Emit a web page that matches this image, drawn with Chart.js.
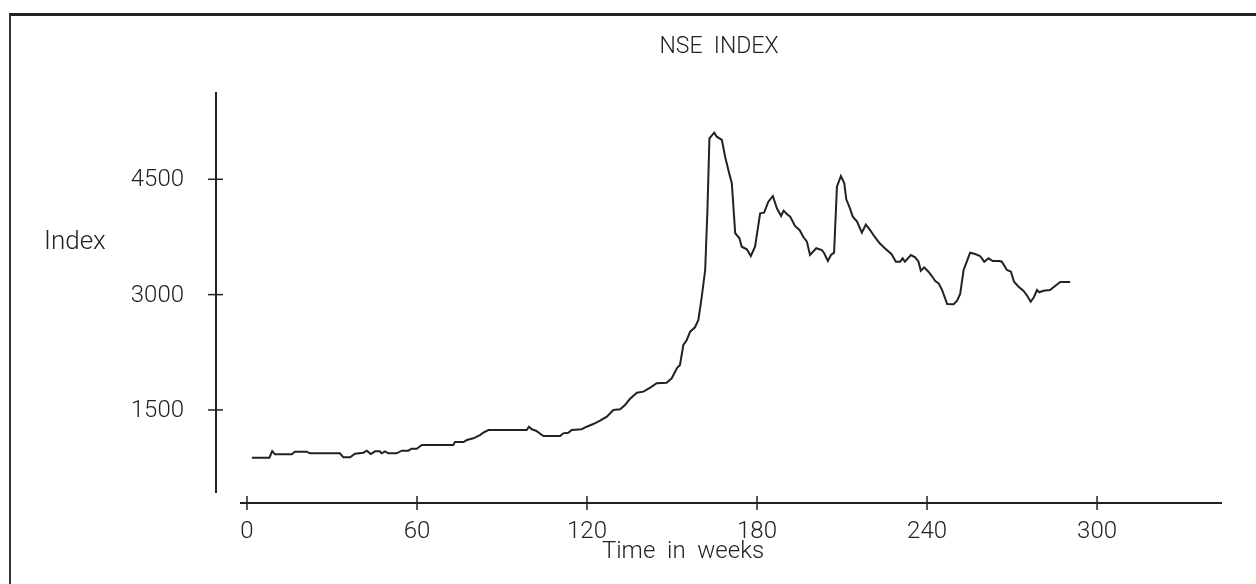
<!DOCTYPE html>
<html>
<head>
<meta charset="utf-8">
<title>NSE INDEX</title>
<script src="https://cdn.jsdelivr.net/npm/chart.js@4.4.1/dist/chart.umd.min.js"></script>
<style>
  html, body { margin: 0; padding: 0; background: #fff; }
  #wrap { position: relative; width: 1256px; height: 584px; overflow: hidden; }
  #frame { position: absolute; left: 9px; top: 13px; width: 1300px; height: 700px;
           border-top: 3px solid #222; border-left: 2px solid #333; }
  canvas { position: absolute; left: 0; top: 0; }
</style>
</head>
<body>
<div id="wrap">
  <div id="frame"></div>
  <canvas id="nseChart" width="1256" height="584"></canvas>
</div>
<script>
// Datos (semana, valor del índice)
const weeks = [
  1.7, 7.9, 8.9, 9.9, 15.8, 16.9, 21.1, 22.2, 32.8, 34.0, 36.4, 38.1, 41.1, 42.3, 43.7,
  45.2, 46.9, 47.5, 48.7, 49.9, 52.8, 54.6, 56.9, 58.1, 59.9, 61.7, 72.8, 73.4, 76.4,
  77.6, 79.9, 82.2, 83.4, 85.2, 98.7, 99.5, 100.5, 102.0, 104.6, 110.5, 111.6, 113.4,
  114.6, 118.1, 119.9, 122.2, 124.6, 127.0, 129.3, 131.7, 133.4, 135.2, 137.6, 139.9,
  142.3, 144.6, 148.1, 149.9, 151.7, 152.8, 154.0, 155.2, 156.4, 158.1, 159.3, 160.5,
  161.7, 162.5, 163.2, 164.9, 165.8, 167.6, 168.7, 170.3, 171.1, 172.3, 173.8, 174.6,
  176.4, 177.8, 179.3, 181.1, 182.5, 184.0, 185.6, 187.0, 188.5, 189.4, 190.5, 191.7,
  193.4, 195.0, 196.4, 197.6, 198.7, 200.9, 202.9, 203.7, 205.0, 206.1, 207.2, 208.2,
  209.6, 210.8, 211.5, 212.6, 213.8, 215.3, 217.0, 218.4, 219.8, 221.5, 223.3, 225.1,
  227.5, 229.0, 230.5, 231.4, 232.2, 234.3, 235.8, 237.0, 237.8, 239.0, 240.5, 241.7,
  242.9, 244.1, 245.3, 247.1, 249.4, 250.6, 251.7, 252.9, 253.8, 255.2, 257.0, 258.7,
  260.2, 261.7, 263.2, 265.6, 266.4, 268.2, 269.6, 270.7, 272.3, 274.0, 275.4, 276.6,
  277.8, 278.8, 279.6, 281.1, 283.4, 285.2, 287.0, 290.5
];
const indexValues = [
  879, 879, 966, 923, 923, 957, 957, 936, 936, 884, 884, 931, 944, 970, 927,
  962, 962, 936, 962, 936, 936, 970, 970, 996, 996, 1044, 1044, 1083, 1083,
  1109, 1131, 1174, 1204, 1239, 1239, 1282, 1249, 1230, 1161, 1161, 1196, 1204,
  1239, 1249, 1282, 1317, 1360, 1412, 1499, 1508, 1565, 1645, 1725, 1738,
  1790, 1847, 1855, 1912, 2042, 2085, 2345, 2410, 2518, 2575, 2670, 2973,
  3320, 4101, 5033, 5106, 5054, 5011, 4800, 4560, 4448, 3798, 3733, 3623,
  3590, 3502, 3623, 4058, 4066, 4209, 4283, 4123, 4023, 4092, 4049, 4014,
  3893, 3841, 3746, 3689, 3515, 3603, 3580, 3538, 3437, 3515, 3546, 4404,
  4543, 4448, 4240, 4140, 4014, 3949, 3805, 3910, 3845, 3753, 3667, 3603,
  3525, 3428, 3428, 3472, 3428, 3515, 3485, 3428, 3311, 3355, 3298, 3242,
  3177, 3147, 3060, 2878, 2874, 2921, 3008, 3320, 3407, 3545, 3528, 3502,
  3428, 3472, 3437, 3437, 3428, 3320, 3298, 3168, 3103, 3051, 2982, 2908,
  2973, 3060, 3030, 3051, 3060, 3112, 3164, 3164
];
const xTickValues = [0, 60, 120, 180, 240, 300];
const yTickValues = [1500, 3000, 4500];

const chartTitle = 'NSE  INDEX';
const yAxisTitle = 'Index';
const xAxisTitle = 'Time  in  weeks';

const inkColor = '#222';
const fontFamily = 'Roboto, "DejaVu Sans", sans-serif';

/**
 * Dibuja los ejes separados, las marcas y los textos como en el original.
 */
const plainAxesPlugin = {
  id: 'plainAxes',
  afterDraw(chart) {
    const { ctx, chartArea, scales } = chart;
    const xScale = scales.x;
    const yScale = scales.y;
    ctx.save();
    ctx.strokeStyle = inkColor;
    ctx.fillStyle = inkColor;
    ctx.lineWidth = 2;

    // Eje Y
    const axisX = chartArea.left;
    ctx.beginPath();
    ctx.moveTo(axisX, chartArea.top);
    ctx.lineTo(axisX, chartArea.bottom - 10);
    ctx.stroke();

    // Eje X
    const axisY = chartArea.bottom;
    ctx.beginPath();
    ctx.moveTo(chartArea.left + 24, axisY);
    ctx.lineTo(chartArea.right, axisY);
    ctx.stroke();

    ctx.font = `300 24px ${fontFamily}`;
    ctx.lineWidth = 1.5;

    // Marcas y etiquetas del eje Y
    ctx.textAlign = 'right';
    ctx.textBaseline = 'middle';
    yTickValues.forEach((v) => {
      const py = yScale.getPixelForValue(v);
      ctx.beginPath();
      ctx.moveTo(axisX - 8, py);
      ctx.lineTo(axisX + 7, py);
      ctx.stroke();
      ctx.fillText(String(v), axisX - 32, py + 1);
    });

    // Marcas y etiquetas del eje X
    ctx.textAlign = 'center';
    ctx.textBaseline = 'middle';
    xTickValues.forEach((v) => {
      const px = xScale.getPixelForValue(v);
      ctx.beginPath();
      ctx.moveTo(px, axisY - 7);
      ctx.lineTo(px, axisY + 7);
      ctx.stroke();
      ctx.fillText(String(v), px, axisY + 29);
    });

    // Títulos
    ctx.fillText(xAxisTitle, 683, axisY + 49);
    ctx.font = `300 23px ${fontFamily}`;
    ctx.fillText(chartTitle, 719, 47);
    ctx.textAlign = 'left';
    ctx.font = `300 26px ${fontFamily}`;
    ctx.fillText(yAxisTitle, 44, 242);

    ctx.restore();
  },
};

const config = {
  type: 'line',
  data: {
    datasets: [
      {
        label: 'NSE Index',
        data: weeks.map((w, i) => ({ x: w, y: indexValues[i] })),
        borderColor: inkColor,
        borderWidth: 2,
        pointRadius: 0,
        tension: 0,
        fill: false,
      },
    ],
  },
  options: {
    responsive: false,
    animation: false,
    devicePixelRatio: 1,
    layout: {
      padding: { left: 216, right: 34, top: 92, bottom: 81 },
    },
    scales: {
      x: { type: 'linear', min: -10.94, max: 344.1, display: false },
      y: { type: 'linear', min: 290, max: 5635, display: false },
    },
    plugins: {
      legend: { display: false },
      tooltip: { enabled: false },
      title: { display: false },
    },
  },
  plugins: [plainAxesPlugin],
};

new Chart(document.getElementById('nseChart'), config);
</script>
</body>
</html>
